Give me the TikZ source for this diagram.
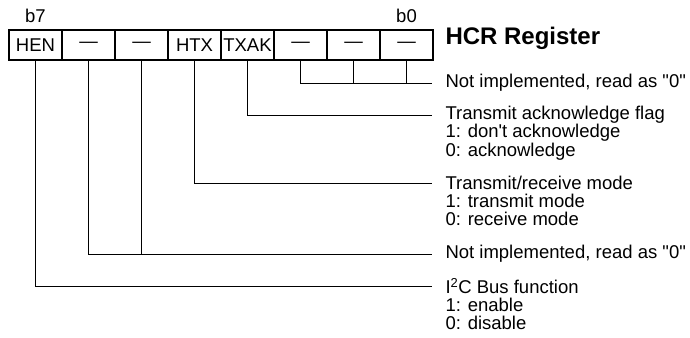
\documentclass[tikz,border=0pt]{standalone}
\usepackage{fontspec}
\setmainfont{Liberation Sans}
\usetikzlibrary{positioning}

\begin{document}
\begin{tikzpicture}[
    x=1pt, y=-1pt,
    line width=1pt,
    font=\fontsize{18.5}{18.5}\selectfont,
    bitbox/.style={draw, line width=1.3pt, minimum width=53pt, minimum height=30pt, inner sep=0pt},
    desc/.style={anchor=west, inner xsep=13pt, inner ysep=0pt, align=left}
  ]
  \useasboundingbox (0,0) rectangle (690,337);

  % --- register bits (b7 ... b0) ---------------------------------------
  \foreach \name/\txt [count=\i from 0] in
      {bit7/HEN, bit6/---, bit5/---, bit4/HTX, bit3/TXAK, bit2/---, bit1/---, bit0/---}
    \node[bitbox] (\name) at (35.5+53*\i,45) {\txt};

  \node[above=6pt of bit7, inner sep=0pt] (b7lbl) {b7};
  \node[above=6pt of bit0, inner sep=0pt] (b0lbl) {b0};

  \node[anchor=west, inner sep=0pt, font=\fontsize{24}{24}\selectfont\bfseries] (title) at (445,38) {HCR Register};

  % --- descriptions ------------------------------------------------------
  \node[desc] (nilow)  at (432,83)  {Not implemented, read as \textquotedbl 0\textquotedbl};
  \node[desc] (txak)   at (432,115) {Transmit acknowledge flag};
  \node[desc] (txakd)  at (432,142) {1: don\textquotesingle t acknowledge\\0: acknowledge};
  \node[desc] (htx)    at (432,183) {Transmit/receive mode};
  \node[desc] (htxd)   at (432,210) {1: transmit mode\\0: receive mode};
  \node[desc] (nihigh) at (432,254) {Not implemented, read as \textquotedbl 0\textquotedbl};
  \node[desc] (hen)    at (432,286) {I\textsuperscript{2}C Bus function};
  \node[desc] (hend)   at (432,314) {1: enable\\0: disable};

  % --- leader lines ------------------------------------------------------
  \draw (bit2.south) |- (nilow.west);
  \draw (bit1.south) -- (bit1.south |- nilow.west);
  \draw (bit0.south) -- (bit0.south |- nilow.west);

  \draw (bit3.south) |- (txak.west);
  \draw (bit4.south) |- (htx.west);

  \draw (bit6.south) |- (nihigh.west);
  \draw (bit5.south) -- (bit5.south |- nihigh.west);

  \draw (bit7.south) |- (hen.west);

\end{tikzpicture}
\end{document}
